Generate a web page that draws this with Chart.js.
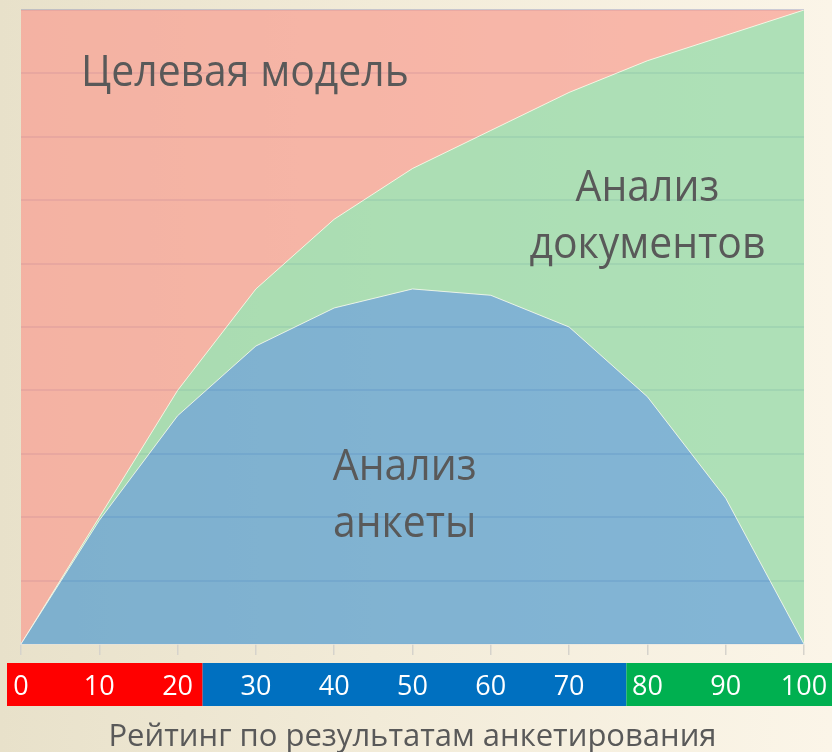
<!DOCTYPE html>
<html><head><meta charset="utf-8">
<script src="https://cdn.jsdelivr.net/npm/chart.js@4.4.1/dist/chart.umd.min.js"></script>
<style>
html,body{margin:0;padding:0;width:832px;height:752px;overflow:hidden;
background:linear-gradient(90deg,#e8e1ca 0%,#f2ebd8 45%,#fbf5e8 100%);}
#wrap{position:relative;width:832px;height:752px;}
</style></head><body>
<div id="wrap"><canvas id="c" width="832" height="752"></canvas></div>
<script>
// ---- data ----
const ratings = [0, 10, 20, 30, 40, 50, 60, 70, 80, 90, 100];
const surveyAnalysis   = [0, 19.5, 36, 47, 53, 56, 55, 50, 39, 23, 0];
const documentAnalysis = [0, 0.5, 4, 9, 14, 19, 26, 37, 53, 73, 100];
const targetModel      = [100, 80, 60, 44, 33, 25, 19, 13, 8, 4, 0];
const seriesNames = ['Анализ анкеты', 'Анализ документов', 'Целевая модель'];
const areaTexts = [['Целевая модель'], ['Анализ', 'документов'], ['Анализ', 'анкеты']];
const axisTitle = 'Рейтинг по результатам анкетирования';

const toPoints = arr => ratings.map((x, i) => ({x: x, y: arr[i]}));

const bandPlugin = {
  id: 'band',
  beforeDraw(chart) {
    const {ctx, chartArea} = chart;
    const xs = chart.scales.x;
    const top = chartArea.bottom + 19, h = 43;
    const spans = [
      [xs.getPixelForValue(0) - 14, xs.getPixelForValue(20) + 25, '#ff0000'],
      [xs.getPixelForValue(20) + 25, xs.getPixelForValue(80) - 21, '#0070c0'],
      [xs.getPixelForValue(80) - 21, chart.width, '#00b050']
    ];
    ctx.save();
    spans.forEach(s => { ctx.fillStyle = s[2]; ctx.fillRect(s[0], top, s[1] - s[0], h); });
    ctx.restore();
  }
};

const labelPlugin = {
  id: 'areaLabels',
  afterDraw(chart) {
    const {ctx} = chart;
    const xs = chart.scales.x, ys = chart.scales.y;
    const place = [[28.6, 90.0], [80, 71.8], [49, 27.8]];
    const sx = 0.93;
    ctx.save();
    ctx.fillStyle = '#595959';
    ctx.font = '44px "Open Sans"';
    ctx.textAlign = 'center';
    ctx.textBaseline = 'middle';
    areaTexts.forEach((lines, i) => {
      const cx = xs.getPixelForValue(place[i][0]);
      const cy = ys.getPixelForValue(place[i][1]);
      lines.forEach((t, j) => {
        ctx.save();
        ctx.translate(cx, cy + j * 57);
        ctx.scale(sx, 1);
        ctx.fillText(t, 0, 0);
        ctx.restore();
      });
    });
    ctx.restore();
  }
};

new Chart(document.getElementById('c'), {
  type: 'line',
  data: {
    datasets: [
      {label: seriesNames[0], data: toPoints(surveyAnalysis), fill: 'origin',
       backgroundColor: 'rgba(84,156,207,0.72)', borderColor: 'rgba(255,255,240,0.75)', borderWidth: 1,
       pointRadius: 0, tension: 0},
      {label: seriesNames[1], data: toPoints(documentAnalysis), fill: '-1',
       backgroundColor: 'rgba(144,216,165,0.72)', borderColor: 'rgba(255,255,240,0.75)', borderWidth: 1,
       pointRadius: 0, tension: 0},
      {label: seriesNames[2], data: toPoints(targetModel), fill: '-1',
       backgroundColor: 'rgba(248,158,146,0.7)', borderColor: 'rgba(0,0,0,0)', borderWidth: 0,
       pointRadius: 0, tension: 0}
    ]
  },
  options: {
    responsive: false,
    animation: false,
    layout: {padding: {left: 21, right: 28, top: 10, bottom: 0}},
    plugins: {legend: {display: false}, tooltip: {enabled: false}},
    scales: {
      x: {
        type: 'linear', min: 0, max: 100,
        ticks: {stepSize: 10, color: '#ffffff', font: {family: 'Open Sans', size: 27}, padding: 16,
                maxRotation: 0, autoSkip: false},
        grid: {drawOnChartArea: false, tickLength: 11, color: '#d6d3cc', lineWidth: 1.5},
        border: {display: true, color: 'rgba(225,225,225,0.9)', width: 1.5},
        title: {display: true, text: axisTitle, color: '#595959',
                font: {family: 'Open Sans', size: 31, lineHeight: 0.8}, padding: {top: 18, bottom: 2}},
        afterFit: s => { s.height = 108; s.paddingLeft = 0; s.paddingRight = 0; }
      },
      y: {
        stacked: true, min: 0, max: 100,
        ticks: {display: false, stepSize: 10},
        grid: {drawTicks: false, lineWidth: 2,
               color: c => (c.tick && c.tick.value === 0) ? 'rgba(0,0,0,0)' : 'rgba(100,110,175,0.3)'},
        border: {display: false},
        z: 1,
        afterFit: s => { s.width = 0; }
      }
    }
  },
  plugins: [bandPlugin, labelPlugin]
});
</script>
</body></html>
